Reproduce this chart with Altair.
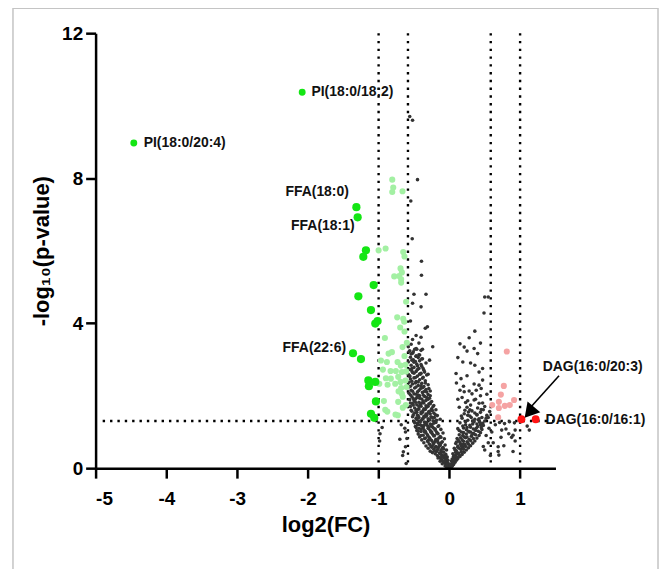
import altair as alt
import pandas as pd

# ---------------- data ----------------
# non-significant lipids (dark grey)
gray_x = [
    -0.01,-0.02,-0.03,-0.04,-0.05,-0.015,-0.06,-0.035,-0.08,-0.1,-0.02,-0.05,-0.12,-0.07,-0.14,-0.03,-0.09,-0.17,-0.11,-0.05,
    -0.2,-0.14,-0.24,-0.08,-0.18,-0.27,-0.12,-0.04,-0.22,-0.16,-0.3,-0.09,-0.25,-0.19,-0.33,-0.13,-0.06,-0.28,-0.22,-0.36,
    -0.16,-0.1,-0.31,-0.25,-0.39,-0.19,-0.07,-0.34,-0.28,-0.42,-0.13,-0.22,-0.37,-0.31,-0.44,-0.17,-0.09,-0.26,-0.4,-0.34,
    -0.46,-0.2,-0.12,-0.29,-0.43,-0.37,-0.24,-0.48,-0.15,-0.32,-0.41,-0.27,-0.45,-0.19,-0.35,-0.5,-0.23,-0.39,-0.13,-0.3,
    -0.47,-0.43,-0.26,-0.36,-0.17,-0.51,-0.33,-0.4,-0.22,-0.46,-0.29,-0.53,-0.37,-0.19,-0.43,-0.25,-0.49,-0.32,-0.55,-0.4,
    -0.22,-0.46,-0.29,-0.52,-0.36,-0.43,-0.25,-0.5,-0.33,-0.56,-0.39,-0.28,-0.46,-0.53,-0.35,-0.42,-0.3,-0.5,-0.57,-0.38,
    -0.45,-0.27,-0.54,-0.33,-0.41,-0.49,-0.58,-0.36,-0.44,-0.3,-0.52,-0.39,-0.57,-0.47,-0.34,-0.42,-0.55,-0.5,-0.37,-0.45,
    -0.32,-0.58,-0.4,-0.52,-0.47,-0.36,-0.56,-0.43,-0.5,-0.39,-0.54,-0.46,-0.33,-0.58,-0.42,-0.51,-0.38,-0.55,-0.47,-0.43,
    -0.52,-0.57,-0.4,-0.49,
    -0.02,-0.06,-0.1,-0.04,-0.13,-0.07,-0.16,-0.11,-0.21,-0.08,-0.15,-0.24,-0.12,-0.2,-0.29,-0.15,-0.24,-0.33,-0.18,-0.27,
    -0.36,-0.22,-0.3,-0.39,-0.25,-0.34,-0.43,-0.28,-0.37,-0.21,-0.32,-0.45,-0.27,-0.38,-0.24,-0.34,-0.47,-0.3,-0.41,-0.27,
    -0.37,-0.48,-0.32,-0.44,-0.35,-0.4,-0.48,
    -0.50,-0.33,-0.52,-0.40,-0.55,-0.31,-0.34,-0.47,-0.40,-0.235,-0.54,-0.46,-0.56,-0.51,-0.38,-0.42,-0.47,-0.53,-0.48,-0.39,
    -0.28,-0.45,-0.37,-0.53,-0.50,-0.41,-0.30,-0.56,
    -0.45,-0.545,-0.525,-0.394,-0.394,-0.56,-0.52,
    -0.98,-0.95,-0.985,-0.62,-0.6,-0.62,-0.61,-0.65,-0.7,-0.68,-0.63,-0.66,
    0.01,0.02,0.04,0.03,0.06,0.05,0.08,0.1,0.04,0.12,0.07,0.15,0.09,0.18,0.05,0.13,0.21,0.1,0.24,0.16,
    0.07,0.27,0.19,0.12,0.3,0.22,0.09,0.33,0.15,0.25,0.36,0.18,0.28,0.11,0.39,0.21,0.31,0.42,0.14,0.24,
    0.34,0.44,0.17,0.27,0.37,0.46,0.12,0.2,0.3,0.4,0.48,0.23,0.33,0.15,0.43,0.5,0.26,0.36,0.18,0.46,
    0.29,0.53,0.39,0.21,0.32,0.45,0.25,0.5,0.37,0.18,0.44,
    0.03,0.06,0.11,0.08,0.14,0.2,0.17,0.26,0.13,0.23,0.32,0.19,0.28,0.38,0.25,0.35,0.44,0.31,0.41,0.27,
    0.15,0.21,0.28,0.38,0.53,0.35,0.42,0.23,0.14,0.57,0.29,0.48,0.39,
    0.49,0.36,0.15,0.21,0.35,0.25,0.40,0.19,0.36,0.47,0.095,0.165,0.47,0.20,0.35,0.42,0.5,0.55,
    0.71,0.78,0.85,0.92,0.74,0.80,0.93,0.88,0.90,0.73,0.69,0.77,1.13,0.70,0.69,0.90,0.93,0.84,1.1,0.62,0.6,0.65,
]
gray_y = [
    0.02,0.05,0.08,0.04,0.1,0.12,0.15,0.18,0.17,0.21,0.22,0.25,0.26,0.28,0.3,0.31,0.33,0.35,0.37,0.38,
    0.4,0.42,0.43,0.44,0.46,0.47,0.49,0.5,0.52,0.54,0.55,0.57,0.58,0.6,0.61,0.63,0.64,0.66,0.68,0.7,
    0.71,0.73,0.75,0.76,0.78,0.8,0.81,0.83,0.84,0.86,0.87,0.89,0.91,0.92,0.94,0.96,0.97,0.99,1.01,1.02,
    1.04,1.05,1.07,1.09,1.1,1.12,1.14,1.15,1.17,1.19,1.2,1.22,1.24,1.26,1.27,1.29,1.31,1.33,1.35,1.36,
    1.38,1.4,1.42,1.43,1.45,1.47,1.49,1.5,1.52,1.54,1.56,1.57,1.59,1.61,1.63,1.64,1.66,1.68,1.7,1.71,
    1.73,1.75,1.77,1.78,1.8,1.82,1.84,1.86,1.87,1.89,1.91,1.93,1.95,1.97,1.98,2.0,2.03,2.05,2.07,2.09,
    2.11,2.13,2.15,2.17,2.19,2.21,2.23,2.25,2.28,2.3,2.32,2.34,2.37,2.39,2.41,2.44,2.46,2.49,2.51,2.54,
    2.57,2.59,2.62,2.64,2.67,2.7,2.72,2.75,2.78,2.81,2.84,2.87,2.9,2.93,2.96,2.99,3.02,3.06,3.09,3.13,
    3.17,3.21,3.25,3.28,
    0.14,0.06,0.12,0.27,0.19,0.35,0.28,0.45,0.48,0.53,0.59,0.62,0.69,0.74,0.79,0.83,0.94,0.97,1.0,1.04,
    1.06,1.1,1.15,1.17,1.2,1.25,1.3,1.33,1.37,1.4,1.45,1.46,1.5,1.54,1.59,1.62,1.6,1.71,1.76,1.8,
    1.85,1.9,1.95,2.02,2.12,2.27,2.35,
    4.8,4.8,4.55,4.45,4.06,3.9,3.86,3.66,3.61,3.35,3.42,3.28,3.24,3.21,3.28,3.12,3.09,2.98,2.94,3.01,
    2.98,2.82,2.75,2.75,2.62,2.59,2.59,2.55,
    7.96,7.37,6.33,5.71,5.32,9.7,9.6,
    0.95,1.12,0.75,1.0,0.82,0.59,0.13,0.45,0.8,1.2,1.1,0.35,
    0.03,0.07,0.05,0.12,0.1,0.18,0.16,0.22,0.25,0.27,0.3,0.32,0.36,0.38,0.4,0.42,0.44,0.48,0.5,0.52,
    0.55,0.56,0.58,0.61,0.62,0.65,0.68,0.69,0.71,0.73,0.75,0.78,0.8,0.82,0.83,0.86,0.88,0.9,0.92,0.94,
    0.96,0.98,1.0,1.02,1.04,1.07,1.09,1.11,1.13,1.15,1.18,1.2,1.22,1.25,1.27,1.3,1.32,1.35,1.38,1.4,
    1.44,1.46,1.48,1.5,1.58,1.62,1.68,1.7,1.9,1.95,2.0,
    0.2,0.33,0.4,0.5,0.55,0.66,0.62,0.7,0.76,0.84,0.92,0.9,1.0,1.1,1.12,1.28,1.2,1.4,1.33,1.55,
    2.15,2.11,2.13,2.15,2.04,1.88,1.79,1.81,1.68,1.56,1.61,1.61,1.47,
    4.28,3.78,3.43,3.34,3.3,3.23,3.16,2.93,2.84,2.75,2.61,2.47,2.43,2.26,2.32,2.29,4.72,4.72,
    1.26,1.23,1.28,1.25,1.05,1.08,1.05,0.85,0.91,0.85,0.59,0.62,1.05,0.36,0.46,0.46,0.75,0.95,1.16,0.7,1.0,1.2,
]
# more non-significant lipids filling the dense part of the cloud
gray_fill_x = [
    -0.03,-0.07,-0.1,-0.05,-0.13,-0.17,-0.1,-0.2,-0.26,-0.14,-0.23,-0.3,-0.17,-0.27,-0.35,-0.12,-0.21,-0.3,-0.4,-0.16,
    -0.25,-0.35,-0.44,-0.2,-0.3,-0.4,-0.47,-0.16,-0.26,-0.36,-0.45,-0.22,-0.32,-0.41,-0.49,-0.18,-0.28,-0.38,-0.46,-0.24,
    -0.34,-0.44,-0.52,-0.2,-0.3,-0.4,-0.49,-0.26,-0.36,-0.45,-0.54,-0.23,-0.33,-0.43,-0.51,-0.27,-0.39,-0.48,-0.55,-0.3,
    -0.42,-0.51,-0.27,-0.37,-0.47,-0.55,-0.32,-0.43,-0.52,-0.29,-0.38,-0.47,-0.55,-0.34,-0.44,-0.53,-0.38,-0.48,-0.56,-0.42,
    -0.35,-0.53,-0.45,-0.4,-0.5,-0.44,-0.54,-0.47,-0.58,-0.43,-0.52,
    0.02,0.05,0.08,0.11,0.06,0.14,0.17,0.09,0.2,0.12,0.23,0.16,0.27,0.1,0.2,0.3,0.34,0.16,0.25,0.37,
    0.2,0.3,0.41,0.14,0.24,0.34,0.45,0.19,0.29,0.39,0.47,0.23,0.33,0.42,0.52,0.17,0.26,0.36,0.44,0.55,
    0.22,0.4,0.3,0.47,0.26,0.12,0.32,0.45,0.1,0.25,0.42,0.3,0.12,0.44,0.28,
    0.5,0.55,0.52,0.56,0.48,0.58,
]
gray_fill_y = [
    0.1,0.2,0.3,0.33,0.4,0.5,0.55,0.58,0.6,0.66,0.7,0.72,0.77,0.8,0.82,0.85,0.9,0.88,0.9,0.95,
    1.0,1.0,1.02,1.08,1.1,1.08,1.12,1.15,1.16,1.18,1.2,1.24,1.26,1.28,1.25,1.32,1.34,1.36,1.34,1.4,
    1.42,1.44,1.42,1.48,1.52,1.55,1.52,1.6,1.64,1.62,1.6,1.7,1.72,1.7,1.74,1.78,1.8,1.82,1.8,1.9,
    1.93,1.92,2.0,2.02,2.04,2.02,2.1,2.14,2.12,2.2,2.22,2.24,2.26,2.35,2.38,2.4,2.48,2.5,2.53,2.6,
    2.65,2.68,2.72,2.86,2.92,3.05,3.15,3.3,3.35,3.45,3.55,
    0.1,0.14,0.24,0.3,0.28,0.36,0.45,0.44,0.52,0.58,0.6,0.66,0.66,0.72,0.74,0.76,0.82,0.84,0.86,0.92,
    0.98,1.0,1.02,1.04,1.06,1.08,1.12,1.16,1.18,1.22,1.24,1.28,1.3,1.36,1.38,1.44,1.46,1.52,1.54,1.4,
    1.6,1.66,1.74,1.8,1.86,1.9,2.05,2.2,2.35,2.55,2.65,2.9,3.05,3.45,3.6,
    0.5,0.7,0.9,1.1,0.6,0.35,
]

# significantly decreased (light green) and strongly decreased (green)
down_x = [
    -0.807,-0.793,-0.807,-0.662,-1.0,-0.901,-0.652,-0.634,-0.690,-0.671,-0.779,-0.709,-0.681,-0.681,-0.611,-0.737,-0.652,-0.638,
    -0.695,-0.634,-0.911,-0.601,-0.662,-0.812,-0.859,-0.634,-0.967,-0.883,-0.732,-0.686,-0.620,-0.939,-0.831,-0.756,-0.671,
    -0.611,-0.897,-0.827,-0.723,-0.690,-0.620,-0.990,-0.765,-0.873,-0.681,-0.606,-0.718,-0.671,-0.925,-0.723,-0.658,-0.615,
    -0.906,-0.877,-0.728,-0.761,-0.658,
]
down_y = [
    7.96,7.74,7.62,7.64,6.01,6.06,5.96,5.84,5.51,5.40,5.29,5.30,5.21,5.12,4.59,4.16,4.12,4.04,
    3.88,3.77,3.59,3.46,3.34,3.20,3.16,3.09,2.97,2.93,2.93,2.83,2.85,2.72,2.68,2.68,2.65,
    2.67,2.48,2.47,2.52,2.38,2.42,2.33,2.33,2.30,2.21,2.24,2.12,2.05,1.85,1.83,1.97,1.74,
    1.61,1.56,1.46,1.48,1.67,
]
strong_down_x = [-1.179,-1.216,-1.07,-1.286,-1.108,-1.047,-1.014,-1.249,-1.145,-1.047,-1.137,-1.038,-1.108,-1.061,
                 -1.314,-1.296,-1.362]
strong_down_y = [6.01,5.83,5.05,4.74,4.36,3.99,4.06,3.01,2.42,2.38,2.26,1.84,1.50,1.39,
                 7.20,6.92,3.17]
pi_x = [-4.46, -2.08]
pi_y = [8.97, 10.37]

# significantly increased (pink) and strongly increased (red)
up_x = [0.812,0.770,0.728,0.606,0.700,0.784,0.854,0.915,0.700,0.690]
up_y = [3.22,2.27,2.03,1.74,1.83,1.72,1.74,1.88,1.66,1.40]
strong_up_x = [1.019, 1.22]
strong_up_y = [1.35, 1.35]

# annotations
label_text = ["PI(18:0/20:4)", "PI(18:0/18:2)", "FFA(18:0)", "FFA(18:1)", "FFA(22:6)", "DAG(16:0/20:3)", "DAG(16:0/16:1)"]
label_x = [-4.32, -1.95, -1.42, -1.34, -1.46, 1.32, 1.36]
label_y = [8.97, 10.37, 7.63, 6.69, 3.32, 2.80, 1.34]
label_align = ["left", "left", "right", "right", "right", "left", "left"]

fc_thresholds = [-1, -0.585, 0.585, 1]
p_threshold = 1.301

arrow_from = (1.55, 2.55)
arrow_to = (1.14, 1.66)

x_ticks = [-5, -4, -3, -2, -1, 0, 1]
y_ticks = [0, 4, 8, 12]

# ---------------- chart ----------------
def pts(xs, ys):
    return pd.DataFrame({"x": xs, "y": ys})

xscale = alt.Scale(domain=[-5, 1.5], nice=False, zero=False)
yscale = alt.Scale(domain=[0, 12], nice=False)
FONT = "Liberation Sans"

xaxis = alt.Axis(values=x_ticks, labelExpr="'' + datum.value", title="log2(FC)", grid=False,
                 labelFont=FONT, labelFontSize=19, labelFontWeight="bold", labelColor="black",
                 titleFont=FONT, titleFontSize=22, titleFontWeight="bold", titleColor="black",
                 domainColor="black", domainWidth=2.5, tickColor="black", tickWidth=2.5, tickSize=10,
                 labelPadding=11, titlePadding=7, zindex=1)
yaxis = alt.Axis(values=y_ticks, labelExpr="'' + datum.value", title="-log₁₀(p-value)", grid=False,
                 labelFont=FONT, labelFontSize=19, labelFontWeight="bold", labelColor="black",
                 titleFont=FONT, titleFontSize=22, titleFontWeight="bold", titleColor="black",
                 domainColor="black", domainWidth=2.5, tickColor="black", tickWidth=2.5, tickSize=10,
                 labelPadding=3, titlePadding=8, zindex=1)

X = lambda: alt.X("x:Q", scale=xscale, axis=xaxis)
Y = lambda: alt.Y("y:Q", scale=yscale, axis=yaxis)

frame = alt.Chart(pd.DataFrame({"a": [0]})).mark_rect(fillOpacity=0, stroke="#c4c4c4", strokeWidth=1.5).encode(
    x=alt.value(-83), x2=alt.value(565), y=alt.value(-25), y2=alt.value(560))

vlines = alt.Chart(pd.DataFrame({"x": fc_thresholds})).mark_rule(
    color="black", strokeWidth=2.4, strokeDash=[2.4, 5.4]).encode(x=alt.X("x:Q", scale=xscale, axis=xaxis))

hline = alt.Chart(pd.DataFrame({"y": [p_threshold], "x": [-4.9], "x2": [1.5]})).mark_rule(
    color="black", strokeWidth=2.4, strokeDash=[2.4, 5.0]).encode(x=X(), x2="x2:Q", y=Y())

gray = alt.Chart(pts(gray_x + gray_fill_x, gray_y + gray_fill_y)).mark_circle(
    color="#333333", size=13, opacity=1).encode(x=X(), y=Y())
down = alt.Chart(pts(down_x, down_y)).mark_circle(color="#a3f0a3", size=38, opacity=1).encode(x=X(), y=Y())
up = alt.Chart(pts(up_x, up_y)).mark_circle(color="#f5a3a3", size=38, opacity=1).encode(x=X(), y=Y())
sdown = alt.Chart(pts(strong_down_x, strong_down_y)).mark_circle(color="#14e614", size=68, opacity=1).encode(x=X(), y=Y())
pis = alt.Chart(pts(pi_x, pi_y)).mark_circle(color="#14e614", size=48, opacity=1).encode(x=X(), y=Y())
sup = alt.Chart(pts(strong_up_x, strong_up_y)).mark_circle(color="#ff1414", size=62, opacity=1).encode(x=X(), y=Y())

labels_df = pd.DataFrame({"x": label_x, "y": label_y, "t": label_text, "a": label_align})
left_labels = alt.Chart(labels_df[labels_df.a == "left"]).mark_text(
    align="left", baseline="middle", font=FONT, fontSize=14, fontWeight="bold", color="#111111").encode(
    x=X(), y=Y(), text="t:N")
right_labels = alt.Chart(labels_df[labels_df.a == "right"]).mark_text(
    align="right", baseline="middle", font=FONT, fontSize=14, fontWeight="bold", color="#111111").encode(
    x=X(), y=Y(), text="t:N")

arrow_df = pd.DataFrame({"x": [arrow_from[0]], "y": [arrow_from[1]], "x2": [arrow_to[0]], "y2": [arrow_to[1]]})
arrow_line = alt.Chart(arrow_df).mark_rule(color="black", strokeWidth=1.6).encode(x=X(), y=Y(), x2="x2:Q", y2="y2:Q")
arrow_head = alt.Chart(pd.DataFrame({"x": [arrow_to[0] - 0.01], "y": [arrow_to[1] - 0.12]})).mark_point(
    shape="triangle-up", size=280, angle=220, filled=True, color="black", opacity=1).encode(x=X(), y=Y())

chart = alt.layer(frame, vlines, hline, gray, down, up, sdown, pis, sup, arrow_line, arrow_head,
                  left_labels, right_labels).properties(
    width=462, height=437,
    padding={"left": 88, "top": 24, "right": 104, "bottom": 100},
    autosize=alt.AutoSizeParams(type="none"),
).configure_view(stroke=None)

chart.save("out.html", embed_options={"renderer": "svg", "actions": False})
